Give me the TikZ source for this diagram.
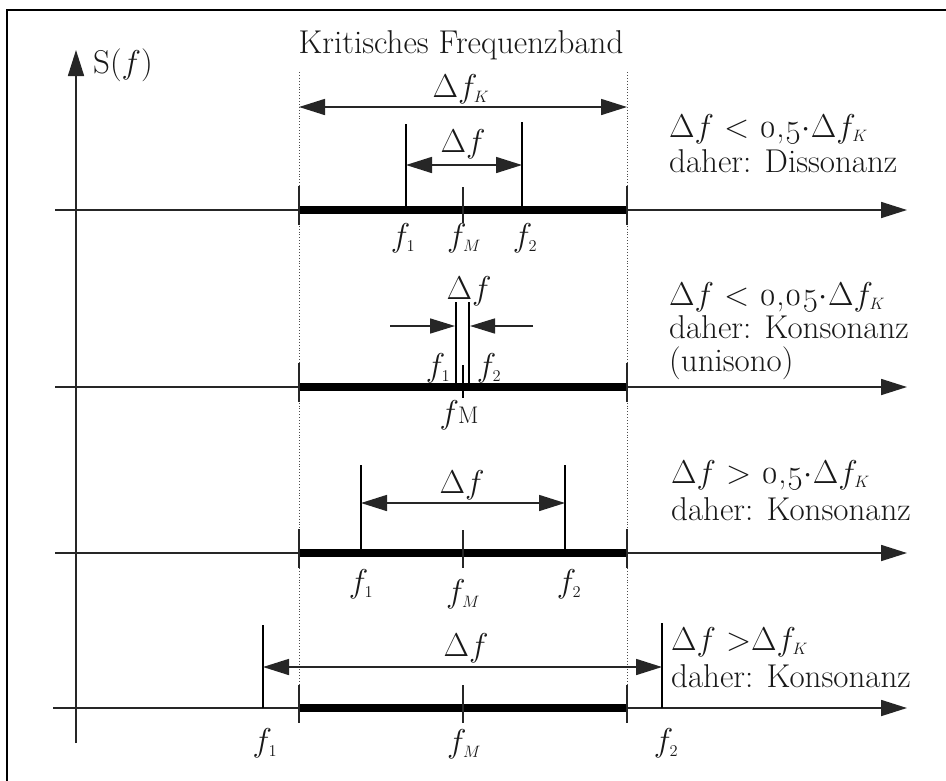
\RequirePackage{fix-cm}
\documentclass[tikz,border=0pt]{standalone}
\usepackage[no-math]{fontspec}
\setmainfont{Latin Modern Roman}[Numbers=OldStyle]
\usetikzlibrary{arrows.meta}
\tikzset{
  frame/.style={line width=2.5pt},
  axisline/.style={line width=1.7pt, draw=black!85, -{Triangle[length=26pt,width=16pt]}},
  bandline/.style={line width=8pt},
  tickline/.style={line width=1.7pt, draw=black!85},
  toneline/.style={line width=2.4pt},
  dimline/.style={line width=1.6pt, draw=black!85, {Triangle[length=26pt,width=16pt]}-{Triangle[length=26pt,width=16pt]}},
  oneline/.style={line width=1.6pt, draw=black!85, -{Triangle[length=25pt,width=15pt]}},
  guide/.style={dotted, line width=0.9pt, draw=black!70},
  lbl/.style={font=\fontsize{33}{37}\selectfont, inner sep=0pt, text=black!90},
  rtxt/.style={lbl, anchor=base west},
}
\newcommand{\fsub}[1]{$f_{\scriptscriptstyle #1}$}
\begin{document}
\begin{tikzpicture}[x=1pt,y=-1pt]
\useasboundingbox (0,0) rectangle (946,780);
\fill[white] (0,0) rectangle (946,780);
% frame
\coordinate (fbl) at (7,790);
\coordinate (ftr) at (956,10);
\draw[frame] (fbl) |- (ftr);

% vertical axis
\coordinate (ya) at (76,743);
\coordinate (yb) at (76,50);
\draw[axisline] (ya) -- (yb);
\node[lbl] (sf) at (123,65) {S($f$)};

% critical band guides
\coordinate (gl1) at (299,72);
\coordinate (gl2) at (299,723);
\coordinate (gr1) at (627,72);
\coordinate (gr2) at (627,723);
\draw[guide] (gl1) -- (gl2);
\draw[guide] (gr1) -- (gr2);
\node[lbl] (title) at (461,45) {Kritisches Frequenzband};
\coordinate (dkl) at (299,107);
\coordinate (dkr) at (627,107);
\draw[dimline] (dkl) -- (dkr);
\node[lbl] (dfk) at (461,89) {$\Delta f_{\scriptscriptstyle K}$};

% ---------- row 1 ----------
\coordinate (a1s) at (55,210);
\coordinate (a1e) at (907,210);
\draw[axisline] (a1s) -- (a1e);
\coordinate (b1l) at (299,210);
\coordinate (b1r) at (627,210);
\draw[bandline] (b1l) -- (b1r);
\coordinate (t1la) at (299,186); \coordinate (t1lb) at (299,225);
\coordinate (t1ra) at (627,186); \coordinate (t1rb) at (627,225);
\coordinate (t1ma) at (463,187); \coordinate (t1mb) at (463,223);
\draw[tickline] (t1la) -- (t1lb);
\draw[tickline] (t1ra) -- (t1rb);
\draw[tickline] (t1ma) -- (t1mb);
\coordinate (r1f1t) at (406,124); \coordinate (r1f1b) at (406,210);
\coordinate (r1f2t) at (522,122); \coordinate (r1f2b) at (522,210);
\draw[toneline] (r1f1b) -- (r1f1t);
\draw[toneline] (r1f2b) -- (r1f2t);
\coordinate (r1dl) at (406,165); \coordinate (r1dr) at (522,165);
\draw[dimline] (r1dl) -- (r1dr);
\node[lbl] (r1df) at (463,144) {$\Delta f$};
\node[lbl] (r1l1) at (403,238) {\fsub{1}};
\node[lbl] (r1lm) at (464,238) {\fsub{M}};
\node[lbl] (r1l2) at (525,238) {\fsub{2}};
\node[rtxt] (r1t1) at (669,137) {$\Delta f$ < 0,5$\cdot\Delta f_{\scriptscriptstyle K}$};
\node[rtxt] (r1t2) at (669,172) {daher: Dissonanz};

% ---------- row 2 ----------
\coordinate (a2s) at (55,387);
\coordinate (a2e) at (907,387);
\draw[axisline] (a2s) -- (a2e);
\coordinate (b2l) at (299,387);
\coordinate (b2r) at (627,387);
\draw[bandline] (b2l) -- (b2r);
\coordinate (t2la) at (299,363); \coordinate (t2lb) at (299,402);
\coordinate (t2ra) at (627,363); \coordinate (t2rb) at (627,402);
\coordinate (t2ma) at (463,365); \coordinate (t2mb) at (463,398);
\draw[tickline] (t2la) -- (t2lb);
\draw[tickline] (t2ra) -- (t2rb);
\draw[line width=1.2pt] (t2ma) -- (t2mb);
\coordinate (r2f1t) at (456,302); \coordinate (r2f1b) at (456,387);
\coordinate (r2f2t) at (469,302); \coordinate (r2f2b) at (469,387);
\draw[toneline] (r2f1b) -- (r2f1t);
\draw[toneline] (r2f2b) -- (r2f2t);
\coordinate (r2al) at (390,326); \coordinate (r2ar) at (533,326);
\coordinate (r2tl) at (455,326); \coordinate (r2tr) at (470,326);
\draw[oneline] (r2al) -- (r2tl);
\draw[oneline] (r2ar) -- (r2tr);
\node[lbl] (r2df) at (469,291) {$\Delta f$};
\node[lbl] (r2l1) at (438,368) {\fsub{1}};
\node[lbl] (r2l2) at (489,368) {\fsub{2}};
\node[lbl] (r2lm) at (459,415) {$f$\kern-1pt{\fontsize{24}{24}\selectfont M}};
\node[rtxt] (r2t1) at (669,305) {$\Delta f$ < 0,05$\cdot\Delta f_{\scriptscriptstyle K}$};
\node[rtxt] (r2t2) at (669,338) {daher: Konsonanz};
\node[rtxt] (r2t3) at (669,371) {(unisono)};

% ---------- row 3 ----------
\coordinate (a3s) at (55,553);
\coordinate (a3e) at (907,553);
\draw[axisline] (a3s) -- (a3e);
\coordinate (b3l) at (299,553);
\coordinate (b3r) at (627,553);
\draw[bandline] (b3l) -- (b3r);
\coordinate (t3la) at (299,529); \coordinate (t3lb) at (299,568);
\coordinate (t3ra) at (627,529); \coordinate (t3rb) at (627,568);
\coordinate (t3ma) at (463,530); \coordinate (t3mb) at (463,568);
\draw[tickline] (t3la) -- (t3lb);
\draw[tickline] (t3ra) -- (t3rb);
\draw[tickline] (t3ma) -- (t3mb);
\coordinate (r3f1t) at (361,465); \coordinate (r3f1b) at (361,553);
\coordinate (r3f2t) at (565,465); \coordinate (r3f2b) at (565,553);
\draw[toneline] (r3f1b) -- (r3f1t);
\draw[toneline] (r3f2b) -- (r3f2t);
\coordinate (r3dl) at (361,503); \coordinate (r3dr) at (565,503);
\draw[dimline] (r3dl) -- (r3dr);
\node[lbl] (r3df) at (462,485) {$\Delta f$};
\node[lbl] (r3l1) at (361,584) {\fsub{1}};
\node[lbl] (r3lm) at (463,594) {\fsub{M}};
\node[lbl] (r3l2) at (569,584) {\fsub{2}};
\node[rtxt] (r3t1) at (671,483) {$\Delta f$ > 0,5$\cdot\Delta f_{\scriptscriptstyle K}$};
\node[rtxt] (r3t2) at (671,520) {daher: Konsonanz};

% ---------- row 4 ----------
\coordinate (a4s) at (53,708);
\coordinate (a4e) at (907,708);
\draw[axisline] (a4s) -- (a4e);
\coordinate (b4l) at (299,708);
\coordinate (b4r) at (627,708);
\draw[bandline] (b4l) -- (b4r);
\coordinate (t4la) at (299,685); \coordinate (t4lb) at (299,723);
\coordinate (t4ra) at (627,685); \coordinate (t4rb) at (627,723);
\coordinate (t4ma) at (463,685); \coordinate (t4mb) at (463,723);
\draw[tickline] (t4la) -- (t4lb);
\draw[tickline] (t4ra) -- (t4rb);
\draw[tickline] (t4ma) -- (t4mb);
\coordinate (r4f1t) at (263,625); \coordinate (r4f1b) at (263,708);
\coordinate (r4f2t) at (662,623); \coordinate (r4f2b) at (662,708);
\draw[toneline] (r4f1b) -- (r4f1t);
\draw[toneline] (r4f2b) -- (r4f2t);
\coordinate (r4dl) at (263,667); \coordinate (r4dr) at (662,667);
\draw[dimline] (r4dl) -- (r4dr);
\node[lbl] (r4df) at (466,648) {$\Delta f$};
\node[lbl] (r4l1) at (265,743) {\fsub{1}};
\node[lbl] (r4lm) at (464,744) {\fsub{M}};
\node[lbl] (r4l2) at (666,743) {\fsub{2}};
\node[rtxt] (r4t1) at (671,650) {$\Delta f$ >$\Delta f_{\scriptscriptstyle K}$};
\node[rtxt] (r4t2) at (671,687) {daher: Konsonanz};
\end{tikzpicture}
\end{document}
